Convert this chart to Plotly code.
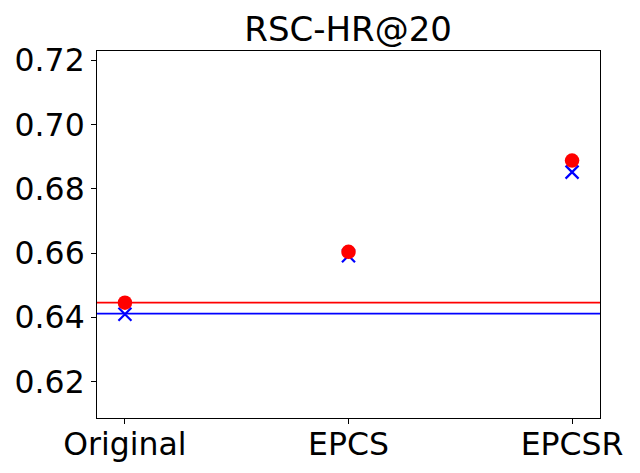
import plotly.graph_objects as go

categories = ["Original", "EPCS", "EPCSR"]
red_values = [0.6446, 0.6604, 0.6888]
blue_values = [0.6410, 0.6592, 0.6852]
red_baseline = 0.6446
blue_baseline = 0.6412
y_ticks = [0.62, 0.64, 0.66, 0.68, 0.70, 0.72]
title_text = "RSC-HR@20"

xpos = list(range(len(categories)))
font = "DejaVu Sans"

fig = go.Figure()
fig.add_trace(go.Scatter(x=xpos, y=blue_values, mode="markers",
                         marker=dict(symbol="x-thin", size=13, line=dict(color="blue", width=2.2)),
                         showlegend=False))
fig.add_trace(go.Scatter(x=xpos, y=red_values, mode="markers",
                         marker=dict(symbol="circle", size=14.5, color="red"),
                         showlegend=False))
fig.add_hline(y=red_baseline, line=dict(color="red", width=1.8))
fig.add_hline(y=blue_baseline, line=dict(color="blue", width=1.8))

fig.update_layout(
    width=640, height=473,
    margin=dict(l=97, r=40, t=51, b=55),
    paper_bgcolor="white", plot_bgcolor="white",
    title=dict(text=title_text, x=0.544, xanchor="center", y=0.938, yanchor="middle",
               xref="container", yref="container",
               font=dict(family=font, size=34, color="black")),
    font=dict(family=font, size=31.5, color="black"),
)
fig.update_xaxes(range=[-0.125, 2.125], tickmode="array", tickvals=xpos, ticktext=categories,
                 showgrid=False, zeroline=False, showline=True, linecolor="black", linewidth=1,
                 mirror=True, ticks="outside", ticklen=5, tickcolor="black", automargin=False,
                 ticklabelstandoff=-7,
                 tickfont=dict(family=font, size=31.5, color="black"))
fig.update_yaxes(range=[0.6087, 0.7229], tickmode="array", tickvals=y_ticks,
                 ticktext=[f"{v:.2f}" for v in y_ticks],
                 showgrid=False, zeroline=False, showline=True, linecolor="black", linewidth=1,
                 mirror=True, ticks="outside", ticklen=5, tickcolor="black", automargin=False,
                 tickfont=dict(family=font, size=31.5, color="black"))

fig.write_html("out.html", config={"displayModeBar": False},
               post_script="document.body.style.margin='0';document.body.style.overflow='hidden';")
